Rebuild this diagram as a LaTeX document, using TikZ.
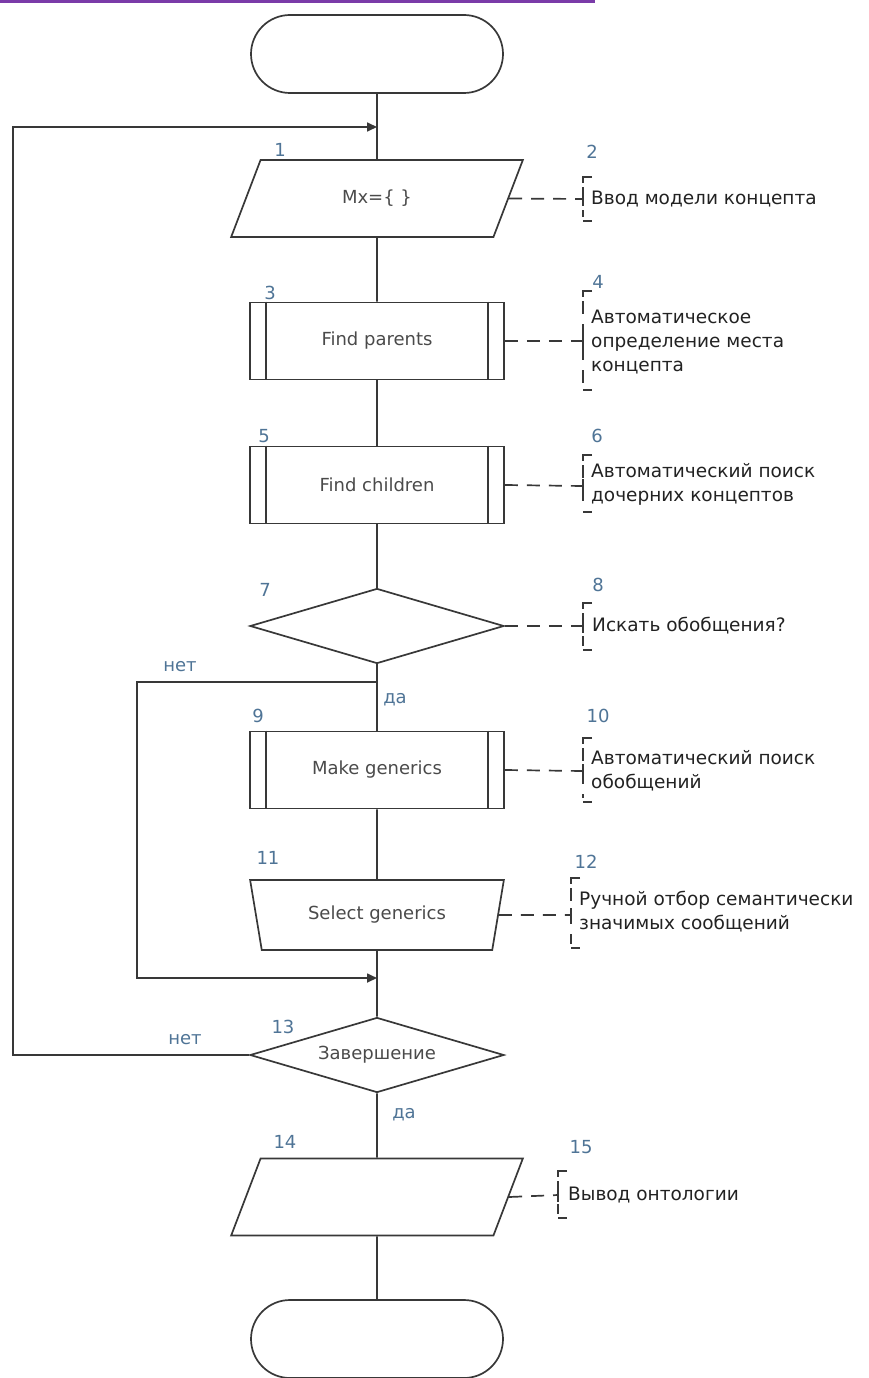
\documentclass[tikz,border=0pt]{standalone}
\usepackage{fontspec}
\setmainfont{DejaVu Sans}
\usetikzlibrary{shapes.geometric,shapes.misc,arrows.meta}
\definecolor{linegray}{HTML}{383838}
\definecolor{numblue}{HTML}{4F7496}
\definecolor{txtgray}{HTML}{4A4A4A}
\definecolor{notetxt}{HTML}{222222}
\definecolor{barpurple}{HTML}{7A3BA8}
\tikzset{
  base/.style={draw=linegray, line width=1.7pt, text=txtgray,
    font=\fontsize{18}{22}\selectfont, inner sep=1pt},
  intext/.style={text=txtgray, font=\fontsize{18}{22}\selectfont, inner sep=0pt},
  term/.style={base, rounded rectangle, minimum width=254pt, minimum height=78pt},
  iobox/.style={base, trapezium, trapezium left angle=64, trapezium right angle=116,
    trapezium stretches, minimum width=292pt, minimum height=77pt},
  procbox/.style={base, rectangle, minimum width=254pt, minimum height=77pt},
  manualbox/.style={base, trapezium, trapezium left angle=110, trapezium right angle=110,
    trapezium stretches, minimum width=254pt, minimum height=70pt},
  decision/.style={base, diamond, minimum width=254pt, minimum height=75pt},
  num/.style={text=numblue, font=\fontsize{18}{21}\selectfont, inner sep=0pt},
  note/.style={text=notetxt, font=\fontsize{18.5}{24}\selectfont, align=left,
    anchor=west, inner sep=0pt},
  flow/.style={draw=linegray, line width=1.7pt},
  arr/.style={flow, -{Triangle[length=10pt,width=9pt]}},
  dashlink/.style={draw=linegray, line width=1.7pt, dash pattern=on 13pt off 9pt},
  brack/.style={draw=linegray, line width=1.6pt},
  brackv/.style={draw=linegray, line width=1.6pt, dash pattern=on 13pt off 10pt},
}
\begin{document}
\begin{tikzpicture}[x=1pt,y=-1pt]
\useasboundingbox (0,0) rectangle (869,1378);
\fill[barpurple] (0,0) rectangle (595,3);

% main column of blocks
\node[term] (t0) at (377,54) {\strut};
\node[iobox] (b1) at (377,198.5) {Mx=\{ \}};
\node[procbox] (b3) at (377,341) {Find parents};
\node[procbox] (b5) at (377,485) {Find children};
\node[decision] (d7) at (377,626) {\strut};
\node[procbox] (b9) at (377,770) {Make generics};
\node[manualbox] (b11) at (377,915) {Select generics};
\node[decision, label={[intext]center:Завершение}] (d13) at (377,1055) {\strut};
\node[iobox] (b14) at (377,1197) {\phantom{Mx=\{ \}}};
\node[term] (t1) at (377,1339) {\strut};

% side bars of the predefined processes
\foreach \b in {b3,b5,b9}{
  \draw[flow] ([xshift=17pt]\b.north west) -- ([xshift=17pt]\b.south west);
  \draw[flow] ([xshift=-17pt]\b.north east) -- ([xshift=-17pt]\b.south east);
}

% block numbers
\node[num] (l1) at (280,150) {1};
\node[num] (l2) at (592,152) {2};
\node[num] (l3) at (270,293) {3};
\node[num] (l4) at (598,282) {4};
\node[num] (l5) at (264,436) {5};
\node[num] (l6) at (597,436) {6};
\node[num] (l7) at (265,590) {7};
\node[num] (l8) at (598,585) {8};
\node[num] (l9) at (258,716) {9};
\node[num] (l10) at (598,716) {10};
\node[num] (l11) at (268,858) {11};
\node[num] (l12) at (586,862) {12};
\node[num] (l13) at (283,1027) {13};
\node[num] (l14) at (285,1142) {14};
\node[num] (l15) at (581,1147) {15};

% branch labels
\node[num] (no1) at (180,667) {нет};
\node[num] (yes1) at (395,700) {да};
\node[num] (no2) at (185,1040) {нет};
\node[num] (yes2) at (404,1115) {да};

% junction points
\coordinate (j1) at (377,127);
\coordinate (j2) at (377,978);
\coordinate (br1) at (377,682);
\coordinate (left1) at (137,682);
\coordinate (left2) at (13,1055);

% flow lines
\draw[flow] (t0.south) -- (b1.north);
\draw[flow] (b1.south) -- (b3.north);
\draw[flow] (b3.south) -- (b5.north);
\draw[flow] (b5.south) -- (d7.north);
\draw[flow] (d7.south) -- (b9.north);
\draw[flow] (b9.south) -- (b11.north);
\draw[flow] (b11.south) -- (d13.north);
\draw[flow] (d13.south) -- (b14.north);
\draw[flow] (b14.south) -- (t1.north);
\draw[arr] (br1) -- (left1) |- (j2);
\draw[arr] (d13.west) -- (left2) |- (j1);

% annotations
\node[note] (n2) at (591,199) {Ввод модели концепта};
\node[note] (n4) at (591,342) {Автоматическое\\определение места\\концепта};
\node[note] (n6) at (591,484) {Автоматический поиск\\дочерних концептов};
\node[note] (n8) at (592,626) {Искать обобщения?};
\node[note] (n10) at (591,771) {Автоматический поиск\\обобщений};
\node[note] (n12) at (579,912) {Ручной отбор семантически\\значимых сообщений};
\node[note] (n15) at (568,1195) {Вывод онтологии};

% annotation brackets and dashed links
\foreach \b/\n/\x/\t/\m/\u in {b1/n2/583/177/199/221, b3/n4/583/291/341/390,
    b5/n6/583/455/486/512, d7/n8/583/603/626/650, b9/n10/583/738/771/802,
    b11/n12/571/878/915/948, b14/n15/558/1171/1195/1218}{
  \coordinate (\n-in) at (\x,\m);
  \draw[brack] (\x+9,\t) -- (\x,\t) -- (\x,\t+6);
  \draw[brack] (\x,\u) -- (\x+9,\u);
  \draw[brackv] (\x,\t+10) -- (\x,\u-4);
  \draw[brack] (\x,\m-7) -- (\x,\m+7);
  \draw[dashlink] (\b.east) -- (\n-in);
}
\end{tikzpicture}
\end{document}
